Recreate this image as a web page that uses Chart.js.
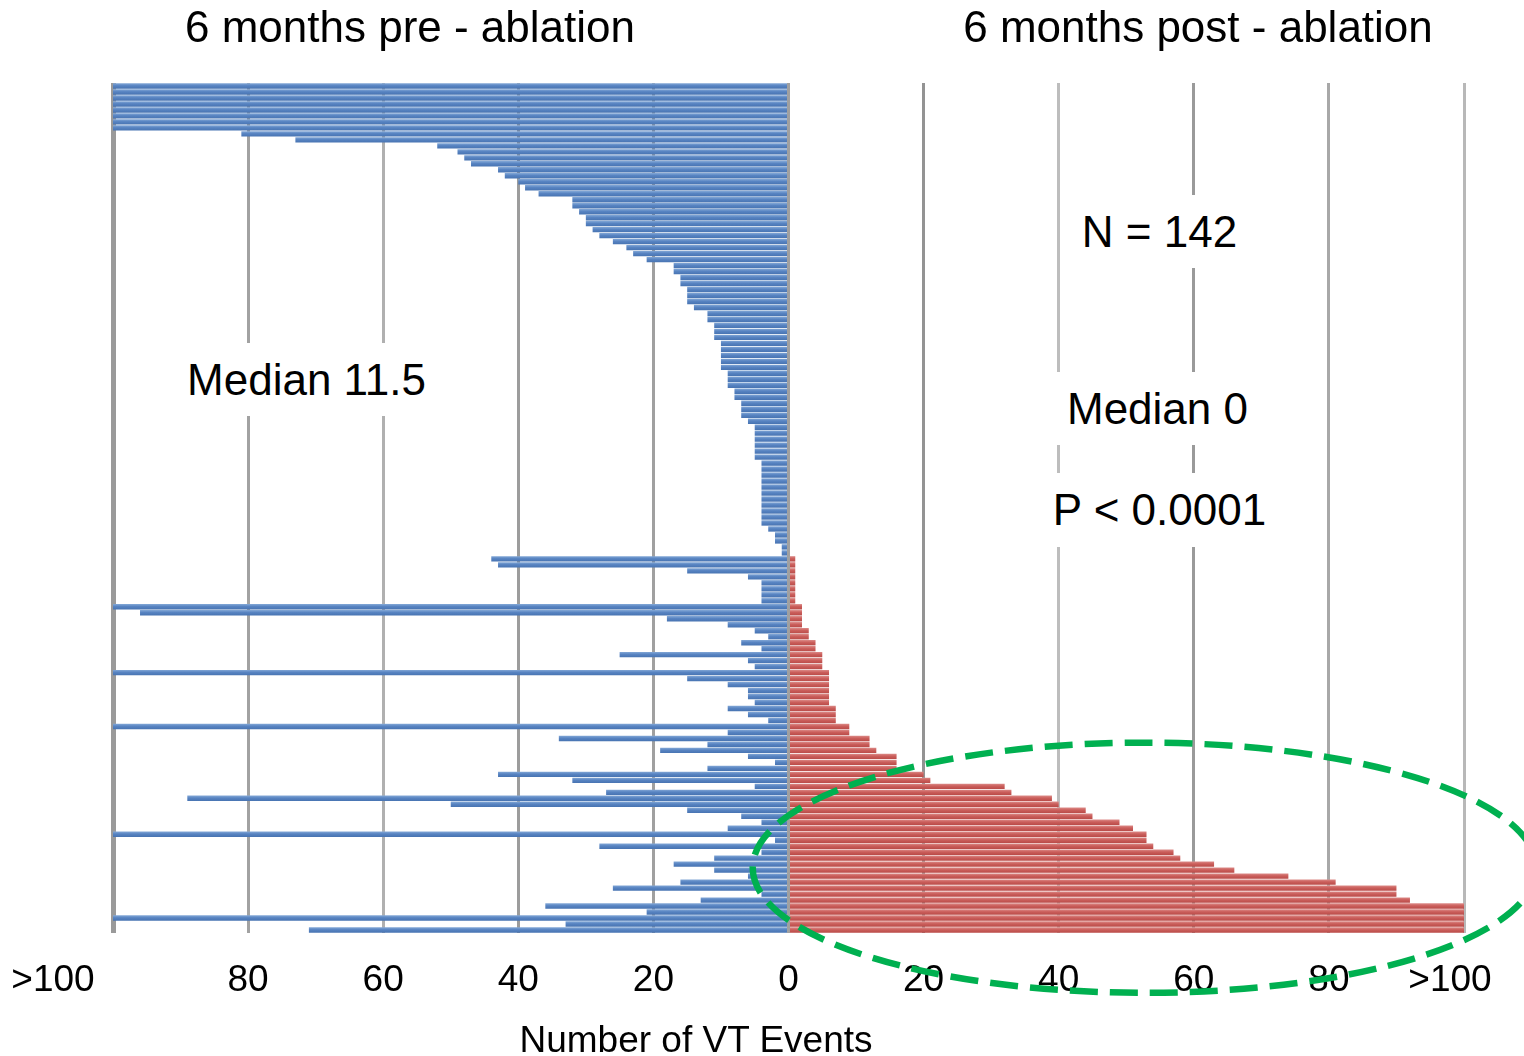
<!DOCTYPE html>
<html lang="en">
<head>
<meta charset="UTF-8">
<title>VT Events pre / post ablation</title>
<script src="https://cdn.jsdelivr.net/npm/chart.js"></script>
<style>
  body { margin: 0; background: #fff; font-family: "Liberation Sans", Arial, sans-serif; }
  #wrap { position: relative; width: 1524px; height: 1056px; overflow: hidden; }
  #vtChart { position: absolute; left: 0; top: 0; }
  .txt { position: absolute; text-align: center; color: #000; white-space: nowrap; }
  .head { font-size: 44px; line-height: 54px; }
  .note { font-size: 44px; background: #fff; }
  .axis { font-size: 37px; line-height: 50px; }
</style>
</head>
<body>
<div id="wrap">
  <canvas id="vtChart" width="1524" height="1056"></canvas>

  <!-- headings -->
  <div class="txt head" style="left:110px; top:0; width:600px;">6 months pre - ablation</div>
  <div class="txt head" style="left:898px; top:0; width:600px;">6 months post - ablation</div>

  <!-- annotations (white boxes break the gridlines like in the original) -->
  <div class="txt note" style="left:180px; top:343px; width:253px; height:73px; line-height:73px;">Median 11.5</div>
  <div class="txt note" style="left:1072px; top:195px; width:175px; height:73px; line-height:73px;">N = 142</div>
  <div class="txt note" style="left:1050px; top:372px; width:215px; height:73px; line-height:73px;">Median 0</div>
  <div class="txt note" style="left:1044px; top:473px; width:231px; height:74px; line-height:74px;">P &lt; 0.0001</div>

  <div class="txt axis" style="left:446px; top:1015px; width:500px;">Number of VT Events</div>
</div>

<script>
// one row per patient, top to bottom; 100 stands for ">100"
const patients = Array.from({ length: 142 }, (_, i) => 'Patient ' + (i + 1));

const preAblation = [
  100, 100, 100, 100, 100, 100, 100, 100,
  81, 73, 52, 49, 48, 47, 43, 42, 40, 39, 37, 32, 32, 31, 30, 30, 29, 28, 26, 24, 23, 21,
  17, 17, 16, 16, 15, 15, 15, 14, 12, 12, 11, 11, 11, 10, 10, 10, 10,
  10, 9, 9, 9, 8, 8, 7, 7, 7, 6,
  5, 5, 5, 5, 5, 5,
  4, 4, 4, 4, 4, 4, 4, 4, 4, 4, 4,
  3, 2, 2, 1, 1,
  44, 43, 15, 6, 4, 4, 4, 4, 100, 96, 18, 9, 5, 3, 7,
  4, 25, 6, 5, 100, 15, 9, 6, 6, 5, 9, 6, 3, 100, 9, 34, 12, 19, 6, 2, 12, 43, 32,
  5, 27, 89, 50, 15, 7, 4, 9, 100, 2, 28, 4, 11, 17, 11, 6, 16, 26, 4, 13, 36, 21, 100, 33, 71
];

const postAblation = [
  0, 0, 0, 0, 0, 0, 0, 0, 0, 0, 0, 0, 0, 0, 0, 0, 0, 0, 0, 0,
  0, 0, 0, 0, 0, 0, 0, 0, 0, 0, 0, 0, 0, 0, 0, 0, 0, 0, 0, 0,
  0, 0, 0, 0, 0, 0, 0, 0, 0, 0, 0, 0, 0, 0, 0, 0, 0, 0, 0, 0,
  0, 0, 0, 0, 0, 0, 0, 0, 0, 0, 0, 0, 0, 0, 0, 0, 0, 0, 0,
  1, 1, 1, 1, 1, 1, 1, 1,
  2, 2, 2, 2, 3, 3, 4, 4, 5, 5, 5,
  6, 6, 6, 6, 6, 6, 7, 7, 7, 9, 9, 12, 12, 13, 16, 16, 16,
  20, 21, 32, 33, 39, 40, 44, 45,
  49, 51, 53, 53, 54, 57, 58, 63, 66, 74, 81, 90, 90, 92, 100, 100, 100, 100, 100
];

// x axis: pre on the left (negative side), post on the right
const tickValues = [-100, -80, -60, -40, -20, 0, 20, 40, 60, 80, 100];
const tickLabels = ['>100', '80', '60', '40', '20', '0', '20', '40', '60', '80', '>100'];
const gridShades = ['#9a9a9a', '#a2a2a2', '#b0b0b0', '#9c9c9c', '#a0a0a0', '#a0a0a0',
                    '#939393', '#bdbdbd', '#9a9a9a', '#a8a8a8', '#b8b8b8'];

// dashed green ring around the high post-ablation group (data units)
const ring = { x: 52.7, row: 130.6, rx: 58, rows: 20.9 };

// Excel-like shaded bars: light top, darker bottom
function barShade(light, mid, dark) {
  return function (ctx) {
    const chart = ctx.chart;
    const y = chart.scales.y;
    if (!y || !chart.chartArea) return mid;
    const c = y.getPixelForValue(ctx.dataIndex);
    const h = (y.getPixelForValue(1) - y.getPixelForValue(0)) / 2;
    const g = chart.ctx.createLinearGradient(0, c - h, 0, c + h);
    g.addColorStop(0, light);
    g.addColorStop(0.45, mid);
    g.addColorStop(1, dark);
    return g;
  };
}

const tickLabelPlugin = {
  id: 'tickLabelPlugin',
  afterDraw(chart) {
    const { ctx, chartArea } = chart;
    const x = chart.scales.x;
    ctx.save();
    ctx.font = '37px "Liberation Sans", Arial, sans-serif';
    ctx.fillStyle = '#000';
    ctx.textAlign = 'center';
    ctx.textBaseline = 'alphabetic';
    tickValues.forEach((v, i) => {
      // end labels sit left of their gridline in the original
      const shift = v === -100 ? -60 : (v === 100 ? -14 : 0);
      ctx.fillText(tickLabels[i], x.getPixelForValue(v) + shift, chartArea.bottom + 58);
    });
    ctx.restore();
  }
};

const ringPlugin = {
  id: 'ringPlugin',
  afterDraw(chart) {
    const { ctx } = chart;
    const x = chart.scales.x, y = chart.scales.y;
    const cx = x.getPixelForValue(ring.x);
    const cy = y.getPixelForValue(ring.row);
    const rx = x.getPixelForValue(ring.x + ring.rx) - cx;
    const ry = y.getPixelForValue(ring.row + ring.rows) - cy;
    ctx.save();
    ctx.strokeStyle = '#00b050';
    ctx.lineWidth = 6.5;
    ctx.setLineDash([28, 12]);
    ctx.beginPath();
    ctx.ellipse(cx, cy, rx, ry, 0, 0, Math.PI * 2);
    ctx.stroke();
    ctx.restore();
  }
};

new Chart(document.getElementById('vtChart'), {
  type: 'bar',
  data: {
    labels: patients,
    datasets: [
      {
        label: '6 months pre - ablation',
        data: preAblation.map(v => -v),
        backgroundColor: barShade('#88acd9', '#5884c2', '#4672b0'),
        barPercentage: 0.9,
        categoryPercentage: 1
      },
      {
        label: '6 months post - ablation',
        data: postAblation,
        backgroundColor: barShade('#de908d', '#cb5f5c', '#b84946'),
        barPercentage: 0.9,
        categoryPercentage: 1
      }
    ]
  },
  options: {
    indexAxis: 'y',
    responsive: false,
    animation: false,
    layout: { padding: { left: 113, right: 60, top: 83, bottom: 123 } },
    plugins: {
      legend: { display: false },
      tooltip: { enabled: false }
    },
    scales: {
      x: {
        stacked: true,
        min: -100,
        max: 100,
        ticks: { stepSize: 20, display: false },
        border: { display: false },
        grid: {
          drawTicks: false,
          color: ctx => gridShades[tickValues.indexOf(ctx.tick ? ctx.tick.value : 0)] || '#a6a6a6',
          lineWidth: ctx => (ctx.tick && ctx.tick.value === -100 ? 5 : 3)
        }
      },
      y: {
        stacked: true,
        display: false
      }
    }
  },
  plugins: [tickLabelPlugin, ringPlugin]
});
</script>
</body>
</html>
